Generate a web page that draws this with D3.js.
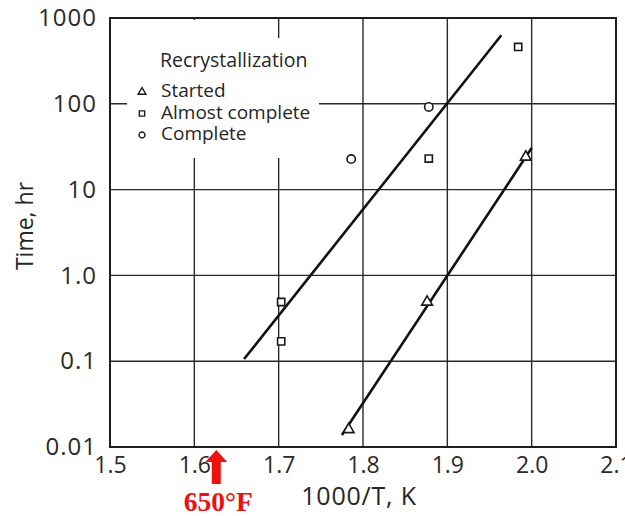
<!DOCTYPE html>
<html>
<head>
<meta charset="utf-8">
<script src="https://cdn.jsdelivr.net/npm/d3@7/dist/d3.min.js"></script>
<style>
  html, body { margin: 0; padding: 0; background: #fff; }
  svg { display: block; font-family: "Open Sans", "DejaVu Sans", sans-serif; }
  text { fill: #262626; }
</style>
</head>
<body>
<svg id="chart" width="625" height="516"></svg>
<script>
// Recrystallization times vs reciprocal absolute temperature
const xTicks = [1.5, 1.6, 1.7, 1.8, 1.9, 2.0, 2.1];
const xTickLabels = ["1.5", "1.6", "1.7", "1.8", "1.9", "2.0", "2.1"];
const yTicks = [0.01, 0.1, 1, 10, 100, 1000];
const yTickLabels = ["0.01", "0.1", "1.0", "10", "100", "1000"];

// Observations: 1000/T (K^-1) and time (hr)
const startedX = [1.783, 1.876, 1.993];
const startedT = [0.016, 0.49, 24];
const almostX = [1.703, 1.703, 1.878, 1.984];
const almostT = [0.49, 0.17, 23, 460];
const completeX = [1.786, 1.878];
const completeT = [22.7, 92];

// Fitted trend lines (end points)
const upperLineX = [1.659, 1.964];
const upperLineT = [0.106, 630];
const lowerLineX = [1.775, 2.0];
const lowerLineT = [0.0138, 30.5];

const legendLabels = ["Started", "Almost complete", "Complete"];
const legendShapes = ["triangle", "square", "circle"];

(function draw() {
const svg = d3.select("#chart");
const pl = 110, pr = 616, pt = 18, pb = 447;

const x = d3.scaleLinear().domain([1.5, 2.1]).range([pl, pr]);
const y = d3.scaleLog().domain([0.01, 1000]).range([pb, pt]);

// grid
const grid = svg.append("g").attr("stroke", "#2a2a2a").attr("stroke-width", 1.4);
grid.selectAll(".vg").data(xTicks.slice(1, -1)).join("line")
  .attr("x1", d => x(d)).attr("x2", d => x(d))
  .attr("y1", pt).attr("y2", pb);
grid.selectAll(".hg").data(yTicks.slice(1, -1)).join("line")
  .attr("x1", pl).attr("x2", pr)
  .attr("y1", d => y(d)).attr("y2", d => y(d));

// knockout behind legend
svg.append("path")
  .attr("d", "M127,20 L262,20 L262,38 L319,38 L319,158 L127,158 Z")
  .attr("fill", "#fff");

// frame
svg.append("rect")
  .attr("x", pl).attr("y", pt)
  .attr("width", pr - pl).attr("height", pb - pt)
  .attr("fill", "none").attr("stroke", "#1e1e1e").attr("stroke-width", 2);

// axes (labels only; frame and grid drawn above)
const yAxis = d3.axisLeft(y).tickValues(yTicks)
  .tickFormat((d, i) => yTickLabels[i]).tickSize(0).tickPadding(13);
const gy = svg.append("g").attr("transform", `translate(${pl},0)`).call(yAxis);
gy.select(".domain").remove();
gy.selectAll("text").style("font-size", "24px").attr("letter-spacing", 1)
  .style("font-family", "'Open Sans', sans-serif").style("fill", "#2a2a2a");

const xAxis = d3.axisBottom(x).tickValues(xTicks)
  .tickFormat((d, i) => xTickLabels[i]).tickSize(0).tickPadding(10);
const gx = svg.append("g").attr("transform", `translate(0,${pb})`).call(xAxis);
gx.select(".domain").remove();
gx.selectAll("text").style("font-size", "23px")
  .style("font-family", "'Open Sans', sans-serif").style("fill", "#2a2a2a");

// trend lines
const line = d3.line().x(d => x(d[0])).y(d => y(d[1]));
[[upperLineX, upperLineT], [lowerLineX, lowerLineT]].forEach(([xs, ts]) => {
  svg.append("path")
    .attr("d", line(xs.map((v, i) => [v, ts[i]])))
    .attr("fill", "none").attr("stroke", "#111").attr("stroke-width", 2.6);
});

// markers
const sym = {
  triangle: d3.symbol().type(d3.symbolTriangle).size(50),
  square: d3.symbol().type(d3.symbolSquare).size(52),
  circle: d3.symbol().type(d3.symbolCircle).size(55)
};
function drawPoints(xs, ts, shape) {
  svg.append("g").selectAll("path").data(xs.map((v, i) => [v, ts[i]])).join("path")
    .attr("transform", d => `translate(${x(d[0])},${y(d[1])})`)
    .attr("d", sym[shape]())
    .attr("fill", "#fff").attr("stroke", "#1a1a1a").attr("stroke-width", 1.6);
}
drawPoints(almostX, almostT, "square");
drawPoints(completeX, completeT, "circle");
drawPoints(startedX, startedT, "triangle");

// legend
const lg = svg.append("g");
lg.append("text").attr("x", 160).attr("y", 67)
  .style("font-size", "19.5px").text("Recrystallization");
const legendSym = {
  triangle: d3.symbol().type(d3.symbolTriangle).size(26),
  square: d3.symbol().type(d3.symbolSquare).size(28),
  circle: d3.symbol().type(d3.symbolCircle).size(28)
};
legendLabels.forEach((lab, i) => {
  const by = 97 + i * 21.5;
  lg.append("path")
    .attr("transform", `translate(142,${by - 5})`)
    .attr("d", legendSym[legendShapes[i]]())
    .attr("fill", "#fff").attr("stroke", "#1a1a1a").attr("stroke-width", 1.4);
  lg.append("text").attr("x", 161).attr("y", by)
    .style("font-size", "19px").text(lab);
});

// axis titles
svg.append("text")
  .attr("transform", "translate(33,226) rotate(-90)")
  .attr("text-anchor", "middle").style("font-size", "23px")
  .text("Time, hr");
svg.append("text")
  .attr("x", 359).attr("y", 505)
  .attr("text-anchor", "middle").style("font-size", "25px")
  .attr("letter-spacing", 0.8)
  .text("1000/T, K");

// 650°F marker on the x axis
const fx = x(1.626);
svg.append("path")
  .attr("d", `M${fx},450 L${fx + 11},462 L${fx + 4.5},462 L${fx + 4.5},484 L${fx - 4.5},484 L${fx - 4.5},462 L${fx - 11},462 Z`)
  .attr("fill", "#f01010");
svg.append("text")
  .attr("x", fx + 2).attr("y", 511)
  .attr("text-anchor", "middle")
  .style("font-family", "'Liberation Serif', 'Times New Roman', serif")
  .style("font-weight", "bold").style("font-size", "27.5px")
  .style("fill", "#f01010")
  .text("650°F");
})();
</script>
</body>
</html>
